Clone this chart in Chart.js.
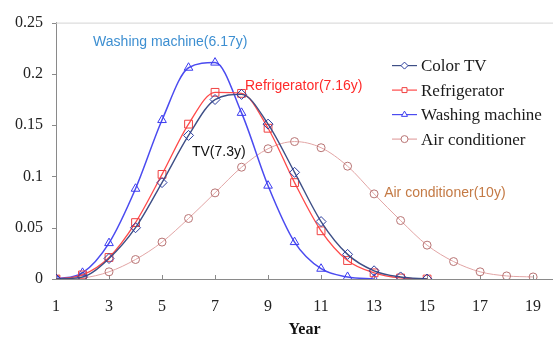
<!DOCTYPE html>
<html>
<head>
<meta charset="utf-8">
<script src="https://cdn.jsdelivr.net/npm/chart.js@4/dist/chart.umd.min.js"></script>
<style>
  html, body { margin: 0; padding: 0; background: #fff; }
  #wrap { width: 553px; height: 338px; position: relative; }
</style>
</head>
<body>
<div id="wrap"><canvas id="lifeChart"></canvas></div>
<script>
"use strict";

// years on the x axis and the tick labels shown
const tvYears = [1, 2, 3, 4, 5, 6, 7, 8, 9, 10, 11, 12, 13, 14, 15];
const fridgeYears = [1, 2, 3, 4, 5, 6, 7, 8, 9, 10, 11, 12, 13, 14, 15];
const washerYears = [1, 2, 3, 4, 5, 6, 7, 8, 9, 10, 11, 12, 13];
const acYears = [1, 2, 3, 4, 5, 6, 7, 8, 9, 10, 11, 12, 13, 14, 15, 16, 17, 18, 19];
const xTickValues = [1, 3, 5, 7, 9, 11, 13, 15, 17, 19];
const yTickValues = [0, 0.05, 0.1, 0.15, 0.2, 0.25];

// probabilities
const colorTv = [0, 0.002, 0.020, 0.050, 0.094, 0.140, 0.175, 0.180, 0.151, 0.104, 0.056, 0.024, 0.008, 0.002, 0];
const refrigerator = [0, 0.004, 0.021, 0.055, 0.102, 0.151, 0.182, 0.181, 0.147, 0.094, 0.047, 0.018, 0.006, 0.001, 0];
const washingMachine = [0, 0.006, 0.035, 0.088, 0.155, 0.206, 0.211, 0.162, 0.091, 0.036, 0.010, 0.002, 0];
const airConditioner = [0, 0.001, 0.007, 0.019, 0.036, 0.059, 0.084, 0.109, 0.127, 0.134, 0.128, 0.110, 0.083, 0.057, 0.033, 0.017, 0.007, 0.003, 0.002];

const legendNames = ['Color TV', 'Refrigerator', 'Washing machine', 'Air conditioner'];

// in-plot notes (data coordinates of the left/middle of the text)
const notes = [
    { text: 'Washing machine(6.17y)', x: 2.40, y: 0.231, color: '#3d8fd1' },
    { text: 'Refrigerator(7.16y)', x: 8.13, y: 0.188, color: '#ff2a2a' },
    { text: 'TV(7.3y)', x: 6.13, y: 0.1236, color: '#111111' },
    { text: 'Air conditioner(10y)', x: 13.38, y: 0.0833, color: '#c47a45' }
];

function toPoints(xs, ys) {
    return xs.map((x, i) => ({ x: x, y: ys[i] }));
}

const serif = '"Liberation Serif", "Times New Roman", serif';
const sans = '"Liberation Sans", Arial, sans-serif';

const frameAndNotes = {
    id: 'frameAndNotes',
    beforeDatasetsDraw(chart) {
        const { ctx, chartArea } = chart;
        ctx.save();
        ctx.strokeStyle = '#d4d4d4';
        ctx.lineWidth = 1;
        ctx.beginPath();
        ctx.moveTo(chartArea.left, chartArea.top + 0.5);
        ctx.lineTo(chartArea.right, chartArea.top + 0.5);
        ctx.stroke();
        // small inward ticks on the x axis, outward on the y axis
        const xs = chart.scales.x;
        ctx.strokeStyle = '#8a8a8a';
        ctx.beginPath();
        xTickValues.forEach(v => {
            const px = Math.round(xs.getPixelForValue(v)) + 0.5;
            ctx.moveTo(px, chartArea.bottom);
            ctx.lineTo(px, chartArea.bottom - 4);
        });
        const ys = chart.scales.y;
        yTickValues.forEach(v => {
            const py = Math.round(ys.getPixelForValue(v)) + 0.5;
            ctx.moveTo(chartArea.left, py);
            ctx.lineTo(chartArea.left - 4, py);
        });
        ctx.stroke();
        ctx.restore();
    },
    afterDatasetsDraw(chart) {
        const { ctx, chartArea } = chart;
        const xs = chart.scales.x;
        const ys = chart.scales.y;
        ctx.save();
        ctx.font = '14px ' + sans;
        ctx.textBaseline = 'middle';
        ctx.textAlign = 'left';
        notes.forEach(n => {
            ctx.fillStyle = n.color;
            ctx.fillText(n.text, xs.getPixelForValue(n.x), ys.getPixelForValue(n.y));
        });

        // legend inside the plot, top right
        const lx = chartArea.right - 161;
        const ly = chartArea.top + 43;
        ctx.font = '17px ' + serif;
        chart.data.datasets.forEach((ds, i) => {
            const y = ly + i * 24.5;
            ctx.strokeStyle = ds.borderColor;
            ctx.lineWidth = 1.2;
            ctx.beginPath();
            ctx.moveTo(lx, y);
            ctx.lineTo(lx + 25, y);
            ctx.stroke();
            ctx.strokeStyle = ds.pointBorderColor;
            ctx.fillStyle = '#ffffff';
            ctx.lineWidth = 1;
            Chart.helpers.drawPoint(ctx, {
                pointStyle: ds.pointStyle,
                radius: 3.5,
                rotation: 0,
                borderWidth: 1
            }, lx + 12.5, y);
            ctx.fillStyle = '#1a1a1a';
            ctx.fillText(legendNames[i], lx + 29, y + 1);
        });
        ctx.restore();
    }
};

function series(label, data, line, marker, style, radius, width) {
    return {
        label: label,
        data: data,
        borderColor: line,
        borderWidth: width,
        pointBorderColor: marker,
        pointBackgroundColor: 'rgba(255,255,255,0)',
        pointBorderWidth: 1,
        pointStyle: style,
        pointRadius: radius,
        cubicInterpolationMode: 'monotone',
        fill: false
    };
}

new Chart(document.getElementById('lifeChart'), {
    type: 'line',
    data: {
        datasets: [
            series('Color TV', toPoints(tvYears, colorTv), '#3e4f86', '#2b3d9e', 'rectRot', 5, 1.4),
            series('Refrigerator', toPoints(fridgeYears, refrigerator), '#ff4a4a', '#f04040', 'rect', 5.5, 1.3),
            series('Washing machine', toPoints(washerYears, washingMachine), '#4b4bf0', '#3c3cf0', 'triangle', 5, 1.5),
            series('Air conditioner', toPoints(acYears, airConditioner), '#e2a5a5', '#b87474', 'circle', 4, 1)
        ]
    },
    plugins: [frameAndNotes],
    options: {
        responsive: true,
        maintainAspectRatio: false,
        animation: false,
        layout: { autoPadding: false, padding: { top: 18, right: 0, left: 0, bottom: 0 } },
        plugins: {
            legend: { display: false },
            tooltip: { enabled: false }
        },
        scales: {
            x: {
                type: 'linear',
                min: 1,
                max: 19.75,
                afterBuildTicks: axis => { axis.ticks = xTickValues.map(v => ({ value: v })); },
                afterFit: scale => {
                    scale.height = 59;
                    scale.paddingLeft = 0;
                    scale.paddingRight = 0;
                },
                grid: { display: false, drawTicks: false },
                border: { color: '#8a8a8a', width: 1 },
                ticks: {
                    padding: 18,
                    color: '#222',
                    font: { family: serif, size: 16 },
                    maxRotation: 0,
                    autoSkip: false
                },
                title: {
                    display: true,
                    text: 'Year',
                    color: '#111',
                    padding: { top: 0, bottom: 0 },
                    font: { family: serif, size: 16, weight: 'bold', lineHeight: 1 }
                }
            },
            y: {
                min: 0,
                max: 0.25,
                afterBuildTicks: axis => { axis.ticks = yTickValues.map(v => ({ value: v })); },
                afterFit: scale => { scale.width = 56; },
                grid: { display: false, drawTicks: false },
                border: { color: '#8a8a8a', width: 1 },
                ticks: {
                    padding: 13,
                    color: '#222',
                    font: { family: serif, size: 16 },
                    callback: v => String(v)
                }
            }
        }
    }
});
</script>
</body>
</html>
